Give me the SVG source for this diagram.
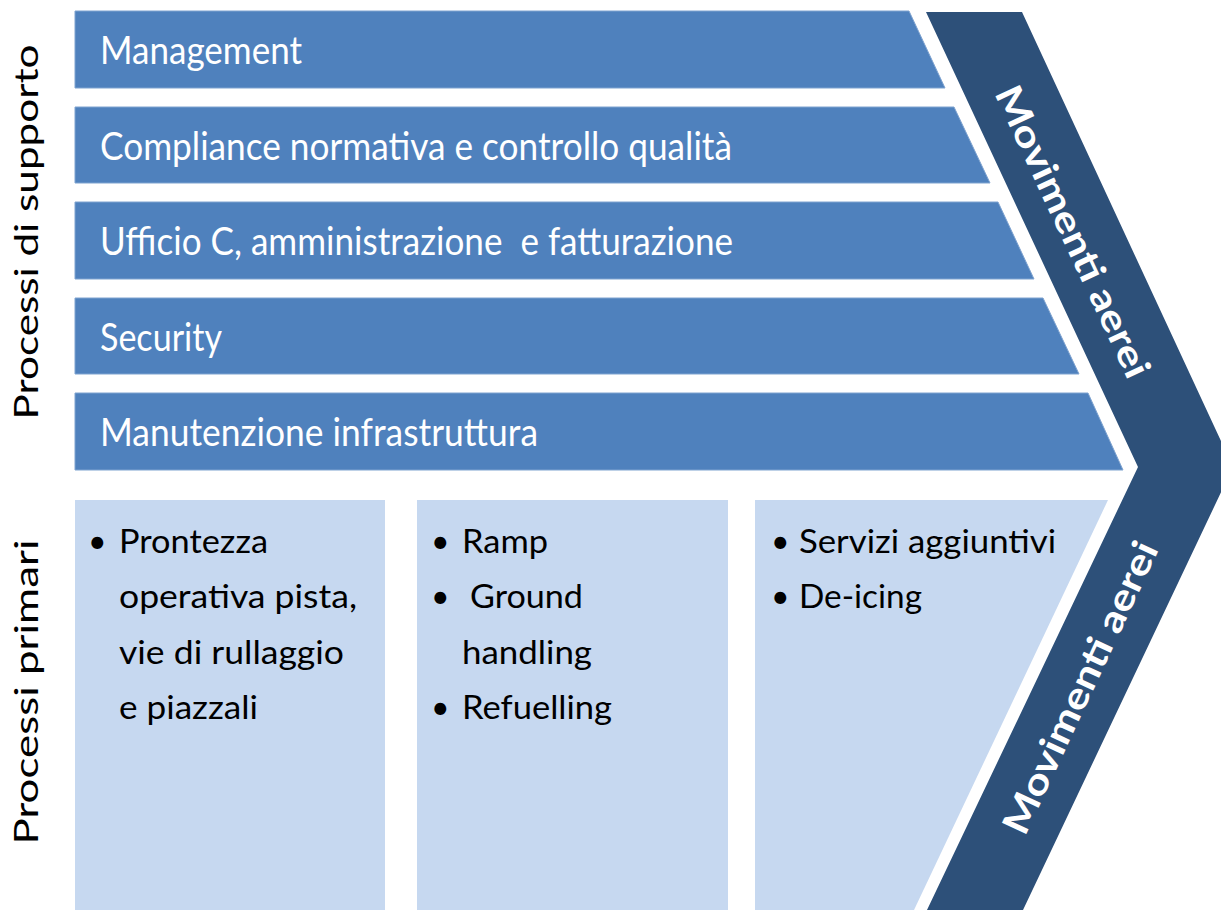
<svg xmlns="http://www.w3.org/2000/svg" width="1221" height="910" viewBox="0 0 1221 910">
<style>
.bar{fill:#4F81BD;stroke:#7FA3D0;stroke-width:1}
.prim{fill:#C6D8F0}
.chev{fill:#2D5079}
.bt{font-family:Lato,"Open Sans",sans-serif;font-size:38px;fill:#FFFFFF}
.pt{font-family:Lato,"Open Sans",sans-serif;font-size:32px;fill:#000000}
.side{font-family:Lato,"Open Sans",sans-serif;font-size:33px;fill:#000000}
.ct{font-family:Lato,"Open Sans",sans-serif;font-size:37px;font-weight:bold;fill:#FFFFFF}
</style>
<rect width="1221" height="910" fill="#FFFFFF"/>
<g id="chevron">
<polygon class="chev" points="926,12 1022,12 1233,467 1023,910 927,910 1138,467"/>
<text class="ct" text-anchor="middle" transform="translate(1072,232) rotate(65)" dy="12" textLength="318" lengthAdjust="spacingAndGlyphs">Movimenti aerei</text>
<text class="ct" text-anchor="middle" transform="translate(1081,688) rotate(-65)" dy="12" textLength="318" lengthAdjust="spacingAndGlyphs">Movimenti aerei</text>
</g>
<g id="label-supporto">
<text class="side" text-anchor="middle" transform="translate(38,232) rotate(-90)" textLength="375" lengthAdjust="spacingAndGlyphs">Processi di supporto</text>
</g>
<g id="label-primari">
<text class="side" text-anchor="middle" transform="translate(38,692) rotate(-90)" textLength="305" lengthAdjust="spacingAndGlyphs">Processi primari</text>
</g>
<g id="bar-management">
<polygon class="bar" points="75,11 909,11 945,88 75,88"/>
<text class="bt" x="100" y="64" textLength="202" lengthAdjust="spacingAndGlyphs">Management</text>
</g>
<g id="bar-compliance">
<polygon class="bar" points="75,107 954,107 990,183 75,183"/>
<text class="bt" x="100" y="160" textLength="632" lengthAdjust="spacingAndGlyphs">Compliance normativa e controllo qualità</text>
</g>
<g id="bar-ufficio">
<polygon class="bar" points="75,202 998,202 1034,279 75,279"/>
<text class="bt" x="100" y="255" textLength="633" lengthAdjust="spacingAndGlyphs" xml:space="preserve">Ufficio C, amministrazione  e fatturazione</text>
</g>
<g id="bar-security">
<polygon class="bar" points="75,298 1043,298 1079,374 75,374"/>
<text class="bt" x="100" y="351" textLength="122" lengthAdjust="spacingAndGlyphs">Security</text>
</g>
<g id="bar-manutenzione">
<polygon class="bar" points="75,393 1088,393 1123,470 75,470"/>
<text class="bt" x="100" y="446" textLength="438" lengthAdjust="spacingAndGlyphs">Manutenzione infrastruttura</text>
</g>
<g id="box-pista">
<rect class="prim" x="75" y="500" width="310" height="410"/>
<text class="pt" x="88" y="553">•</text>
<text class="pt" x="119" y="553" textLength="149" lengthAdjust="spacingAndGlyphs">Prontezza</text>
<text class="pt" x="119" y="608" textLength="238" lengthAdjust="spacingAndGlyphs">operativa pista,</text>
<text class="pt" x="119" y="664" textLength="225" lengthAdjust="spacingAndGlyphs">vie di rullaggio</text>
<text class="pt" x="119" y="719" textLength="139" lengthAdjust="spacingAndGlyphs">e piazzali</text>
</g>
<g id="box-ramp">
<rect class="prim" x="417" y="500" width="311" height="410"/>
<text class="pt" x="431" y="553">•</text>
<text class="pt" x="462" y="553" textLength="86" lengthAdjust="spacingAndGlyphs">Ramp</text>
<text class="pt" x="431" y="608">•</text>
<text class="pt" x="470" y="608" textLength="113" lengthAdjust="spacingAndGlyphs">Ground</text>
<text class="pt" x="462" y="664" textLength="130" lengthAdjust="spacingAndGlyphs">handling</text>
<text class="pt" x="431" y="719">•</text>
<text class="pt" x="462" y="719" textLength="150" lengthAdjust="spacingAndGlyphs">Refuelling</text>
</g>
<g id="box-servizi">
<polygon class="prim" points="755,500 1108,500 914,910 755,910"/>
<text class="pt" x="771" y="553">•</text>
<text class="pt" x="799" y="553" textLength="257" lengthAdjust="spacingAndGlyphs">Servizi aggiuntivi</text>
<text class="pt" x="771" y="608">•</text>
<text class="pt" x="799" y="608" textLength="123" lengthAdjust="spacingAndGlyphs">De-icing</text>
</g>
<g id="connectors"></g>
</svg>
